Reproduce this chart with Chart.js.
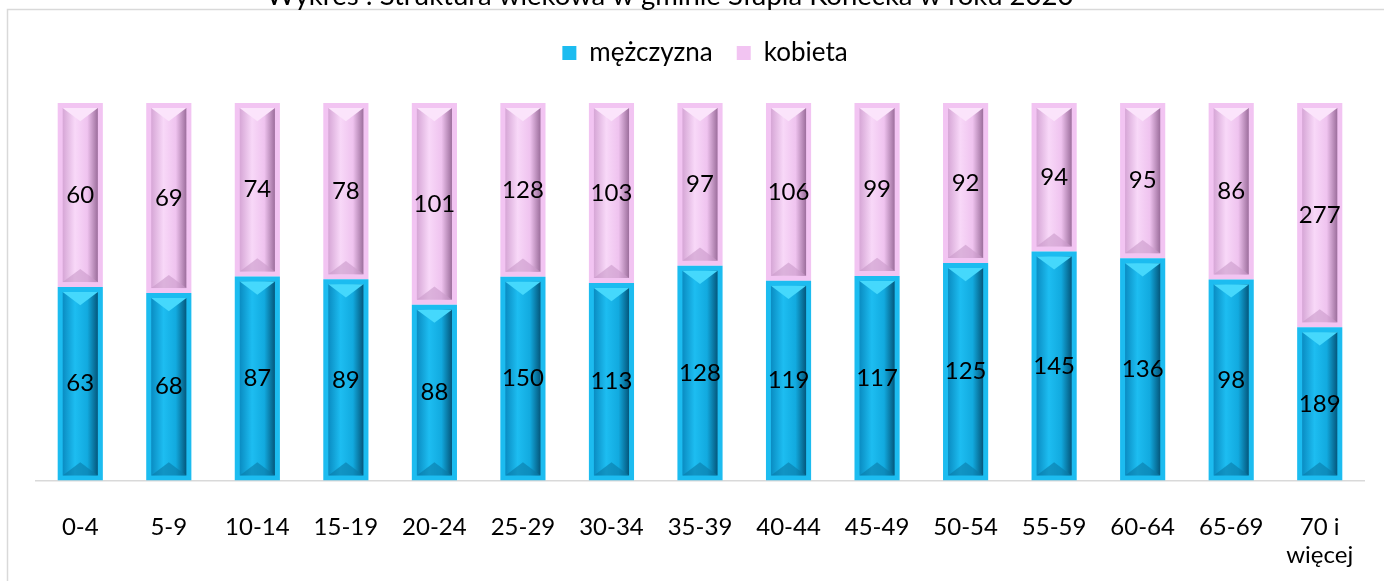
<!DOCTYPE html>
<html>
<head>
<meta charset="utf-8">
<script src="https://cdn.jsdelivr.net/npm/chart.js@4.4.0/dist/chart.umd.min.js"></script>
<style>
  body { margin: 0; background: #fff; }
  canvas { display: block; }
</style>
</head>
<body>
<canvas id="myChart" width="1384" height="581"></canvas>
<script>
const categories = ["0-4", "5-9", "10-14", "15-19", "20-24", "25-29", "30-34", "35-39", "40-44", "45-49", "50-54", "55-59", "60-64", "65-69", ["70 i", "więcej"]];
const men = [63, 68, 87, 89, 88, 150, 113, 128, 119, 117, 125, 145, 136, 98, 189];
const women = [60, 69, 74, 78, 101, 128, 103, 97, 106, 99, 92, 94, 95, 86, 277];
const titleText = "Wykres : Struktura wiekowa w gminie Słupia Konecka w roku 2020";

const FONT = "Lato, 'Open Sans', sans-serif";

// udział procentowy (wykres 100%)
const menPct = men.map((v, i) => v / (v + women[i]) * 100);
const womenPct = women.map((v, i) => v / (v + men[i]) * 100);

const bevel = {
  "mężczyzna": { frame: "#1cbcf0", stops: ["#0a8cc2", "#1dbdf1", "#12aadf", "#04577c"], top: "#45d8fc", bottom: "#0a79a6" },
  "kobieta": { frame: "#f2c4f2", stops: ["#d6a6d6", "#f8d8f8", "#efc3ef", "#9c6e9c"], top: "#fbe4fb", bottom: "#c99ac9" },
};

const framePlugin = {
  id: "frame",
  beforeInit(chart) {
    // dodatkowy odstęp pod legendą, lekkie przesunięcie w prawo
    const legend = chart.legend;
    const fit = legend.fit;
    legend.fit = function () {
      fit.call(this);
      this.height += 27;
    };
    const draw = legend.draw;
    legend.draw = function () {
      this.ctx.save();
      this.ctx.translate(5, 0);
      draw.call(this);
      this.ctx.restore();
    };
  },
  beforeDraw(chart) {
    const ctx = chart.ctx;
    ctx.save();
    ctx.strokeStyle = "#d9d9d9";
    ctx.lineWidth = 1.5;
    ctx.strokeRect(7.5, 9.5, 1400, 600);
    ctx.fillStyle = "#000";
    ctx.font = "27.5px " + FONT;
    ctx.textAlign = "center";
    ctx.textBaseline = "alphabetic";
    ctx.fillText(titleText, 670, 5);
    ctx.restore();
  },
};

const barPlugin = {
  id: "bevelBars",
  afterDatasetsDraw(chart) {
    const ctx = chart.ctx;
    ctx.save();
    chart.data.datasets.forEach((ds, di) => {
      const st = bevel[ds.label];
      chart.getDatasetMeta(di).data.forEach((bar, i) => {
        const l = bar.x - bar.width / 2, r = bar.x + bar.width / 2;
        const t = Math.min(bar.y, bar.base), b = Math.max(bar.y, bar.base);
        const inset = 5;
        const il = l + inset, ir = r - inset, it = t + inset, ib = b - inset;
        const g = ctx.createLinearGradient(il, 0, ir, 0);
        g.addColorStop(0, st.stops[0]);
        g.addColorStop(0.35, st.stops[1]);
        g.addColorStop(0.7, st.stops[2]);
        g.addColorStop(1, st.stops[3]);
        ctx.fillStyle = g;
        ctx.fillRect(il, it, ir - il, ib - it);
        // górny trójkąt
        const tri = Math.min((ir - il) / 2, (ib - it) / 2);
        ctx.fillStyle = st.top;
        ctx.beginPath();
        ctx.moveTo(il, it);
        ctx.lineTo(ir, it);
        ctx.lineTo(bar.x, it + tri * 0.75);
        ctx.closePath();
        ctx.fill();
        // dolny trójkąt
        ctx.fillStyle = st.bottom;
        ctx.globalAlpha = 0.6;
        ctx.beginPath();
        ctx.moveTo(il, ib);
        ctx.lineTo(ir, ib);
        ctx.lineTo(bar.x, ib - tri * 0.75);
        ctx.closePath();
        ctx.fill();
        ctx.globalAlpha = 1;
        // wartości
        ctx.fillStyle = "#000";
        ctx.font = "24px " + FONT;
        ctx.textAlign = "center";
        ctx.textBaseline = "middle";
        ctx.fillText(String(ds.rawValues[i]), bar.x, (t + b) / 2);
      });
    });
    ctx.restore();
  },
};

const ctx = document.getElementById("myChart").getContext("2d");
new Chart(ctx, {
  type: "bar",
  data: {
    labels: categories,
    datasets: [
      {
        label: "mężczyzna",
        data: menPct,
        rawValues: men,
        backgroundColor: bevel["mężczyzna"].frame,
        borderWidth: 0,
        barPercentage: 0.51,
        categoryPercentage: 1,
      },
      {
        label: "kobieta",
        data: womenPct,
        rawValues: women,
        backgroundColor: bevel["kobieta"].frame,
        borderWidth: 0,
        barPercentage: 0.51,
        categoryPercentage: 1,
      },
    ],
  },
  options: {
    responsive: false,
    animation: false,
    layout: { padding: { left: 36, right: 20, top: 16, bottom: -13 } },
    plugins: {
      tooltip: { enabled: false },
      legend: {
        position: "top",
        labels: {
          font: { family: FONT, size: 26 },
          color: "#000",
          boxWidth: 14,
          boxHeight: 14,
          padding: 24,
        },
      },
    },
    scales: {
      x: {
        stacked: true,
        grid: { display: false },
        border: { color: "#d9d9d9", width: 1.5 },
        ticks: { font: { family: FONT, size: 24 }, color: "#000", padding: 24, maxRotation: 0, autoSkip: false },
      },
      y: {
        stacked: true,
        display: false,
        min: 0,
        max: 100,
      },
    },
  },
  plugins: [framePlugin, barPlugin],
});
</script>
</body>
</html>
